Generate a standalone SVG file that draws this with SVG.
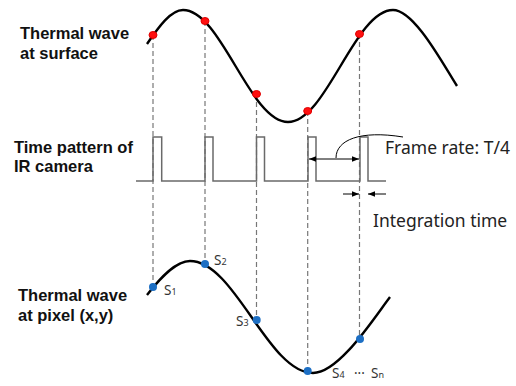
<svg xmlns="http://www.w3.org/2000/svg" width="516" height="386" viewBox="0 0 516 386">
<defs>
<style>
.lbl{font-family:"Liberation Sans",Arial,sans-serif;font-weight:bold;font-size:16.5px;fill:#111}
.txt{font-family:"Noto Sans","Open Sans",sans-serif;font-size:17.5px;fill:#222}
.s{font-family:"Noto Sans","Open Sans",sans-serif;font-size:13.5px;fill:#333}
.sub{font-size:9px}
.wave{fill:none;stroke:#000;stroke-width:2.4}
.dash{stroke:#777;stroke-width:1.2;stroke-dasharray:5,3;fill:none}
.red{fill:#ff1010;stroke:#e00000;stroke-width:1}
.blue{fill:#1d6fc4}
.arr{stroke:#000;stroke-width:1;fill:none}
</style>
<marker id="ah" viewBox="0 0 10 10" refX="10" refY="5" markerWidth="9" markerHeight="7" orient="auto-start-reverse" markerUnits="userSpaceOnUse">
<path d="M0,1 L10,5 L0,9 Z" fill="#000"/>
</marker>
</defs>
<rect width="516" height="386" fill="#fff"/>
<g id="labels">
<text class="lbl" x="20" y="39">Thermal wave</text>
<text class="lbl" x="20" y="59">at surface</text>
<text class="lbl" x="14" y="153">Time pattern of</text>
<text class="lbl" x="14" y="172">IR camera</text>
<text class="lbl" x="18" y="301">Thermal wave</text>
<text class="lbl" x="18" y="321">at pixel (x,y)</text>
</g>
<g id="connectors">
<line class="dash" x1="153" y1="35" x2="153" y2="287"/>
<line class="dash" x1="205" y1="21" x2="205" y2="264"/>
<line class="dash" x1="256.5" y1="94" x2="256.5" y2="320"/>
<line class="dash" x1="307.7" y1="111" x2="307.7" y2="371"/>
<line class="dash" x1="359.5" y1="34" x2="359.5" y2="339"/>
</g>
<g id="surface-wave">
<path class="wave" d="M147,44 C159,26.3 171,10 183,10 C221.2,10 249.8,122 288,122 C326.2,122 354.8,10 393,10 C414,10 442,62.4 457,86"/>
<ellipse class="red" cx="153" cy="35" rx="4" ry="3.5"/>
<ellipse class="red" cx="205" cy="21" rx="4" ry="3.5"/>
<ellipse class="red" cx="256.5" cy="94" rx="4" ry="3.5"/>
<ellipse class="red" cx="307.7" cy="111" rx="4" ry="3.5"/>
<ellipse class="red" cx="359.5" cy="34" rx="4" ry="3.5"/>
</g>
<g id="camera-pattern">
<path d="M136,181 H153 V137 H161.7 V181 H205 V137 H213 V181 H256.5 V137 H264.5 V181 H308 V137 H316 V181 H360 V137 H368 V181 H386" fill="none" stroke="#6a6a6a" stroke-width="1.5"/>
<line class="arr" x1="309" y1="159" x2="359" y2="159" marker-start="url(#ah)" marker-end="url(#ah)"/>
<path class="arr" d="M336,158 C336,140 360,130 403,137" stroke="#333"/>
<text class="txt" x="385" y="154">Frame rate: T/4</text>
<line class="arr" x1="343" y1="194" x2="359" y2="194" marker-end="url(#ah)"/>
<line class="arr" x1="386" y1="194" x2="368" y2="194" marker-end="url(#ah)"/>
<text class="txt" x="373" y="227">Integration time</text>
</g>
<g id="pixel-wave">
<path class="wave" d="M147,295 C161,277 176,261 190,261 C234.8,261 268.2,373 313,373 C339,373 374,318 390,297"/>
<circle class="blue" cx="153" cy="287" r="4"/>
<circle class="blue" cx="205" cy="264" r="4"/>
<circle class="blue" cx="256.7" cy="320" r="4"/>
<circle class="blue" cx="307.7" cy="371" r="4"/>
<circle class="blue" cx="360" cy="339" r="4"/>
<text class="s" x="164" y="295">S<tspan class="sub">1</tspan></text>
<text class="s" x="214" y="265">S<tspan class="sub">2</tspan></text>
<text class="s" x="236" y="326">S<tspan class="sub">3</tspan></text>
<text class="s" x="332" y="378">S<tspan class="sub">4</tspan></text>
<text class="s" x="354" y="378">···</text>
<text class="s" x="371" y="378">S<tspan class="sub">n</tspan></text>
</g>
</svg>
